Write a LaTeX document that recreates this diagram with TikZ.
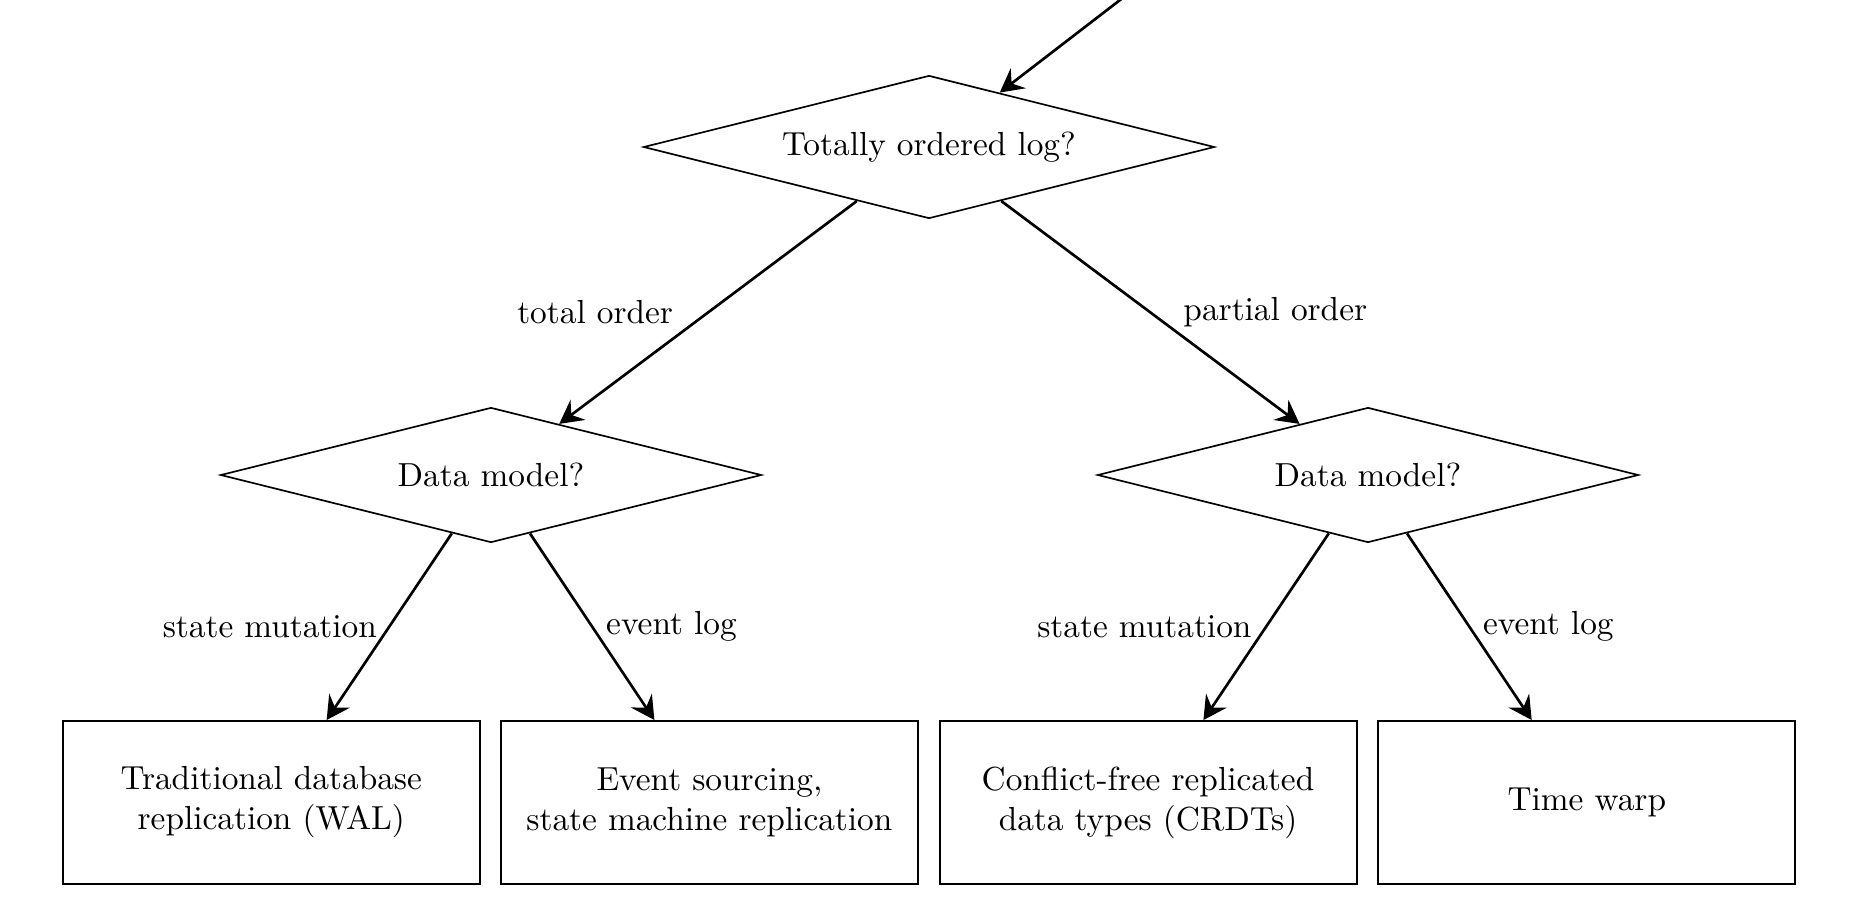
\documentclass[tikz,border=0pt]{standalone}
\usetikzlibrary{shapes.geometric,arrows.meta}
\begin{document}
\begin{tikzpicture}[x=0.3pt,y=-0.3pt,
  question/.style={diamond, draw, line width=0.5pt, inner sep=0pt, aspect=4},
  outcome/.style={rectangle, draw, line width=0.6pt, minimum width=125.1pt, minimum height=48.9pt, align=center, inner sep=0pt},
  flow/.style={line width=0.8pt, -{Stealth[length=7pt,width=7.5pt,inset=2.5pt]}},
  lbl/.style={inner sep=3.5pt}]
\useasboundingbox (0,0) rectangle (1854,916);
\node[question, minimum width=171.3pt, minimum height=42.9pt] (d0) at (929,147) {Totally ordered log?};
\node[question, minimum width=162.3pt, minimum height=40.5pt] (d1) at (491,475) {Data model?};
\node[question, minimum width=162.3pt, minimum height=40.5pt] (d2) at (1368,475) {Data model?};
\node[outcome] (b1) at (271.3,802.5) {Traditional database\\replication (WAL)};
\node[outcome] (b2) at (709.4,802.5) {Event sourcing,\\state machine replication};
\node[outcome] (b3) at (1148,802.5) {Conflict-free replicated\\data types (CRDTs)};
\node[outcome] (b4) at (1586.8,802.5) {Time warp};
\coordinate (entry) at (1159,-30);
\draw[flow] (entry) -- (d0);
\draw[flow] (d0) -- node[lbl, midway, anchor=east, xshift=-6.6pt] {total order} (d1);
\draw[flow] (d0) -- node[lbl, midway, anchor=west, xshift=6pt] {partial order} (d2);
\draw[flow] (d1) -- node[lbl, midway, anchor=east, xshift=0.2pt] {state mutation} (b1);
\draw[flow] (d1) -- node[lbl, midway, anchor=west, xshift=0.3pt] {event log} (b2);
\draw[flow] (d2) -- node[lbl, midway, anchor=east, xshift=-0.5pt] {state mutation} (b3);
\draw[flow] (d2) -- node[lbl, midway, anchor=west, xshift=0.2pt] {event log} (b4);
\end{tikzpicture}
\end{document}
